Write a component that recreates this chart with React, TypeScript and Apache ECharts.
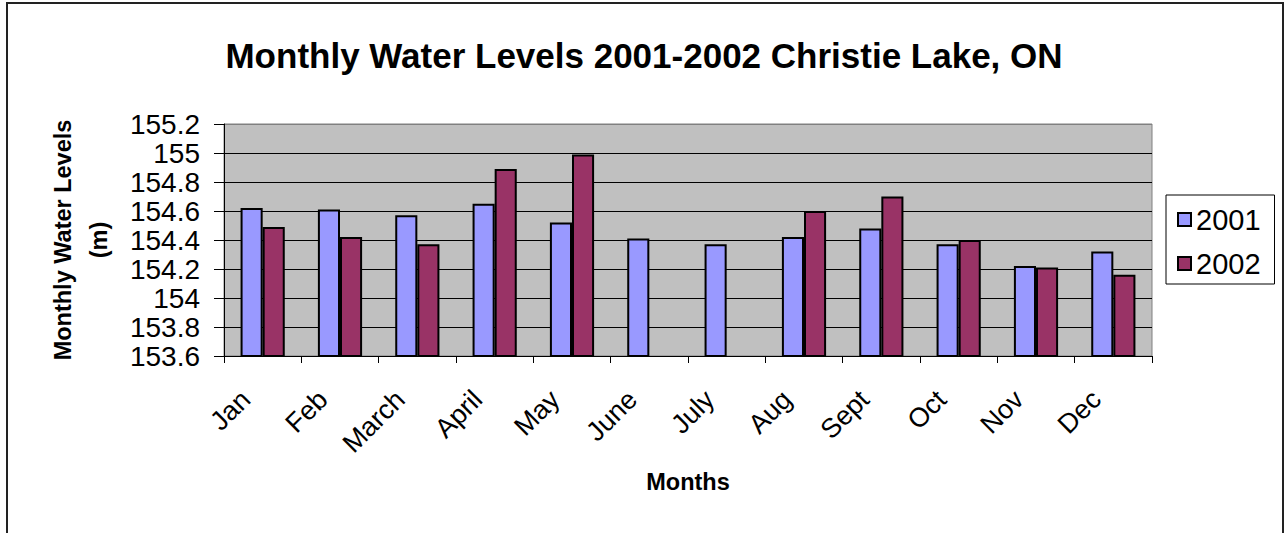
import React, { useEffect, useRef } from "react";
import * as echarts from "echarts";

const months = ["Jan", "Feb", "March", "April", "May", "June", "July", "Aug", "Sept", "Oct", "Nov", "Dec"];
const levels2001 = [154.62, 154.61, 154.57, 154.65, 154.52, 154.41, 154.37, 154.42, 154.48, 154.37, 154.22, 154.32];
const levels2002: (number | null)[] = [154.49, 154.42, 154.37, 154.89, 154.99, null, null, 154.6, 154.7, 154.4, 154.21, 154.16];
const seriesNames = ["2001", "2002"];
const titleText = "Monthly Water Levels 2001-2002 Christie Lake, ON";
const yAxisTitle = "Monthly Water Levels\n(m)";
const xAxisTitle = "Months";

const FONT = 'Arial, "Liberation Sans", sans-serif';

export default function App() {
  const ref = useRef<HTMLDivElement>(null);
  useEffect(() => {
    if (!ref.current) return;
    const chart = echarts.init(ref.current, null, { renderer: "svg" });
    chart.setOption({
      animation: false,
      backgroundColor: "#ffffff",
      textStyle: { fontFamily: FONT },
      title: {
        text: titleText,
        left: "center",
        top: 33,
        textStyle: { fontSize: 35, fontWeight: "bold", color: "#000", fontFamily: FONT },
      },
      graphic: [
        {
          type: "rect",
          shape: { x: 7, y: 3, width: 1276, height: 600 },
          style: { fill: "none", stroke: "#222", lineWidth: 2 },
          silent: true,
        },
      ],
      legend: {
        orient: "vertical",
        left: 1166,
        top: 195,
        data: seriesNames,
        icon: "rect",
        itemWidth: 13,
        itemHeight: 13,
        itemGap: 15,
        padding: [10, 14, 6, 11],
        borderColor: "#000",
        borderWidth: 1,
        textStyle: { fontSize: 29, color: "#000", fontFamily: FONT },
      },
      grid: {
        left: 224,
        right: 136,
        top: 124,
        bottom: 177,
        show: true,
        backgroundColor: "#C0C0C0",
        borderColor: "#808080",
        borderWidth: 1,
      },
      xAxis: {
        type: "category",
        data: months,
        name: xAxisTitle,
        nameLocation: "middle",
        nameGap: 114,
        nameTextStyle: { fontSize: 23.5, fontWeight: "bold", color: "#000", fontFamily: FONT },
        axisLine: { lineStyle: { color: "#000", width: 1 } },
        axisTick: { show: true, alignWithLabel: false, length: 7, lineStyle: { color: "#000" } },
        axisLabel: {
          rotate: 45,
          interval: 0,
          margin: 22,
          padding: [0, 24, 0, 0],
          fontSize: 27,
          color: "#000",
          fontFamily: FONT,
        },
      },
      yAxis: {
        type: "value",
        min: 153.6,
        max: 155.2,
        interval: 0.2,
        name: yAxisTitle,
        nameLocation: "middle",
        nameRotate: 90,
        nameGap: 107,
        nameTextStyle: {
          fontSize: 23.5,
          fontWeight: "bold",
          color: "#000",
          fontFamily: FONT,
          lineHeight: 36,
          align: "center",
        },
        axisLine: { show: true, lineStyle: { color: "#000", width: 1 } },
        axisTick: { show: true, length: 10, lineStyle: { color: "#000" } },
        axisLabel: {
          fontSize: 28,
          color: "#000",
          margin: 24,
          fontFamily: FONT,
          formatter: (v: number) => String(Number(v.toFixed(1))),
        },
        splitLine: {
          show: true,
          lineStyle: {
            color: ["#000", "#000", "#000", "#000", "#000", "#000", "#000", "#000", "#808080"],
            width: 1,
          },
        },
      },
      series: [
        {
          name: seriesNames[0],
          type: "bar",
          data: levels2001,
          barGap: "0%",
          barCategoryGap: "42.86%",
          itemStyle: { color: "#9999FF", borderColor: "#000", borderWidth: 2 },
        },
        {
          name: seriesNames[1],
          type: "bar",
          data: levels2002,
          barGap: "0%",
          barCategoryGap: "42.86%",
          itemStyle: { color: "#993366", borderColor: "#000", borderWidth: 2 },
        },
      ],
    });
    return () => chart.dispose();
  }, []);
  return (
    <div
      ref={ref}
      style={{ position: "absolute", left: 0, top: 0, width: 1288, height: 533 }}
    />
  );
}
